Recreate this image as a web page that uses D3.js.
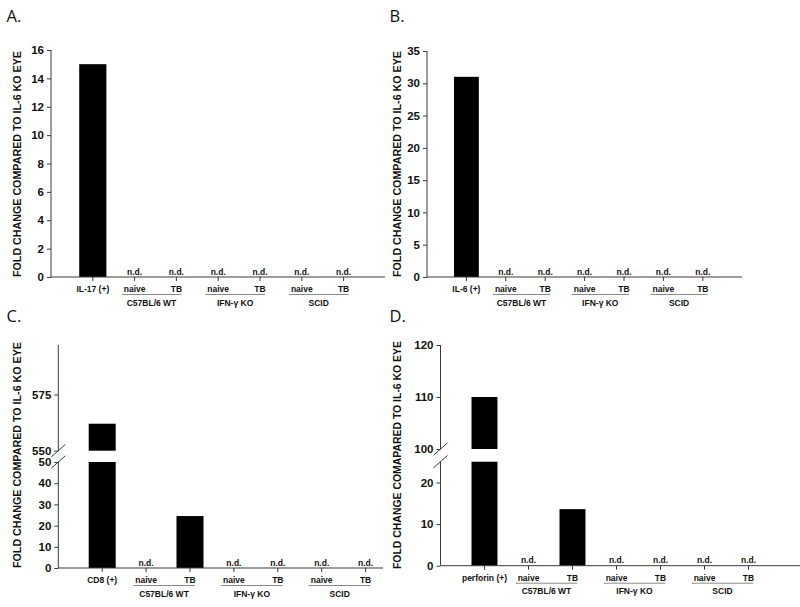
<!DOCTYPE html>
<html><head><meta charset="utf-8">
<script src="https://cdn.jsdelivr.net/npm/d3@7"></script>
<style>
body{margin:0;background:#fff;}
svg{display:block;font-family:"Liberation Sans",Arial,Helvetica,sans-serif;}
</style></head><body>
<svg id="c" width="800" height="607"></svg>
<script>
// ---- data ----
const groups = ["C57BL/6 WT", "IFN-\u03b3 KO", "SCID"];
const subCats = ["naive", "TB", "naive", "TB", "naive", "TB"];
const catsA = ["IL-17 (+)", ...subCats];
const valsA = [15, null, null, null, null, null, null];
const catsB = ["IL-6 (+)", ...subCats];
const valsB = [31, null, null, null, null, null, null];
const catsC = ["CD8 (+)", ...subCats];
const valsC = [562, null, 24.5, null, null, null, null];
const catsD = ["perforin (+)", ...subCats];
const valsD = [110, null, 13.6, null, null, null, null];
const ticksA = [0, 2, 4, 6, 8, 10, 12, 14, 16];
const ticksB = [0, 5, 10, 15, 20, 25, 30, 35];
const ticksCLow = [0, 10, 20, 30, 40, 50];
const ticksCHigh = [550, 575];
const ticksDLow = [0, 10, 20];
const ticksDHigh = [100, 110, 120];
const yTitleABC = "FOLD CHANGE COMPARED TO IL-6 KO EYE";
const yTitleD = "FOLD CHANGE COMAPARED TO IL-6 KO EYE";
const ndLabel = "n.d.";

const svg = d3.select("#c");
const AX = "#3a3a3a";
const FF = "'Liberation Sans',Arial,Helvetica,sans-serif";

function drawPanel(o) {
  const g = svg.append("g");
  const n = o.cats.length;
  const x = d3.scaleBand().domain(d3.range(n))
    .range([o.left + o.step / 2, o.left + (n + 0.5) * o.step])
    .paddingInner(o.pad).paddingOuter(o.pad / 2);
  const cx = i => x(i) + x.bandwidth() / 2;
  const base = o.segs[0].scale(o.segs[0].d0);

  // title letter
  g.append("text").attr("x", o.tx).attr("y", o.ty).text(o.title)
    .style("font-family", "'Open Sans','DejaVu Sans',sans-serif")
    .style("font-size", "16.5px").attr("fill", "#111");

  // y title
  g.append("text")
    .attr("transform", `translate(${o.ytx},${o.ytc}) rotate(-90)`)
    .attr("text-anchor", "middle")
    .style("font-family", FF).style("font-weight", "bold").style("font-size", "11px")
    .attr("textLength", o.ytl).attr("lengthAdjust", "spacingAndGlyphs")
    .attr("fill", "#111").text(o.ytitle);

  // bars
  o.vals.forEach((v, i) => {
    if (v == null) return;
    o.segs.forEach(s => {
      if (v <= s.d0) return;
      const top = s.scale(Math.min(v, s.d1));
      const bot = s.scale(s.d0);
      g.append("rect").attr("x", x(i)).attr("width", x.bandwidth())
        .attr("y", top).attr("height", bot - top).attr("fill", "#000");
    });
  });

  // y axis segments
  o.segs.forEach(s => {
    const ax = g.append("g").attr("transform", `translate(${o.left},0)`)
      .call(d3.axisLeft(s.scale).tickValues(s.ticks).tickSize(4).tickPadding(3));
    ax.select(".domain").remove();
    ax.selectAll(".tick line").attr("stroke", AX);
    ax.selectAll(".tick text").style("font-family", FF)
      .style("font-weight", "bold").style("font-size", "11.5px").attr("fill", "#111");
    g.append("line").attr("x1", o.left).attr("x2", o.left)
      .attr("y1", s.scale(s.d0)).attr("y2", s.scale(s.d1)).attr("stroke", AX);
  });

  // break marks
  if (o.segs.length > 1) {
    const ys = [o.segs[0].scale(o.segs[0].d1), o.segs[1].scale(o.segs[1].d0)];
    ys.forEach(yy => {
      g.append("line").attr("x1", o.left - 7).attr("y1", yy + 6.2)
        .attr("x2", o.left + 7).attr("y2", yy - 6.2).attr("stroke", AX);
    });
  }

  // x axis
  g.append("line").attr("x1", o.left).attr("x2", o.xEnd)
    .attr("y1", base).attr("y2", base).attr("stroke", AX);
  const xa = g.append("g").attr("transform", `translate(0,${base})`)
    .call(d3.axisBottom(x).tickSize(4).tickPadding(5).tickFormat(i => o.cats[i]));
  xa.select(".domain").remove();
  xa.selectAll(".tick line").attr("stroke", AX);
  xa.selectAll(".tick text").style("font-family", FF)
    .style("font-weight", "bold").style("font-size", "8.5px").attr("fill", "#111");

  // n.d. labels
  o.vals.forEach((v, i) => {
    if (v != null) return;
    g.append("text").attr("x", cx(i)).attr("y", base - 2.5)
      .attr("text-anchor", "middle")
      .style("font-family", FF).style("font-weight", "bold").style("font-size", "8.5px")
      .attr("fill", "#111").text(ndLabel);
  });

  // group underlines and labels
  groups.forEach((gr, k) => {
    const x1 = cx(1 + 2 * k) - 13, x2 = cx(2 + 2 * k) + 5;
    g.append("line").attr("x1", x1).attr("x2", x2)
      .attr("y1", base + 17.5).attr("y2", base + 17.5).attr("stroke", "#8a8a8a");
    g.append("text").attr("x", (x1 + x2) / 2).attr("y", base + 28.5)
      .attr("text-anchor", "middle")
      .style("font-family", FF).style("font-weight", "bold").style("font-size", "8.5px")
      .attr("fill", "#111").text(gr);
  });
}

drawPanel({
  title: "A.", tx: 6.5, ty: 21.7, ytitle: yTitleABC, ytx: 20.7, ytc: 164, ytl: 226,
  left: 51, step: 41.8, xEnd: 385, pad: 0.35, cats: catsA, vals: valsA,
  segs: [{ scale: d3.scaleLinear().domain([0, 16]).range([277, 50]), d0: 0, d1: 16, ticks: ticksA }]
});
drawPanel({
  title: "B.", tx: 389.5, ty: 21.7, ytitle: yTitleABC, ytx: 401, ytc: 164, ytl: 226,
  left: 427, step: 39.4, xEnd: 742, pad: 0.37, cats: catsB, vals: valsB,
  segs: [{ scale: d3.scaleLinear().domain([0, 35]).range([277, 51]), d0: 0, d1: 35, ticks: ticksB }]
});
drawPanel({
  title: "C.", tx: 6.5, ty: 321.7, ytitle: yTitleABC, ytx: 20.7, ytc: 455, ytl: 226,
  left: 58.3, step: 43.9, xEnd: 383, pad: 0.385, cats: catsC, vals: valsC,
  segs: [
    { scale: d3.scaleLinear().domain([0, 50]).range([568, 462]), d0: 0, d1: 50, ticks: ticksCLow },
    { scale: d3.scaleLinear().domain([550, 597]).range([450.7, 345]), d0: 550, d1: 597, ticks: ticksCHigh }
  ]
});
drawPanel({
  title: "D.", tx: 389.5, ty: 321.7, ytitle: yTitleD, ytx: 401, ytc: 455, ytl: 228,
  left: 440.5, step: 44, xEnd: 800, pad: 0.41, cats: catsD, vals: valsD,
  segs: [
    { scale: d3.scaleLinear().domain([0, 25]).range([565.7, 461.7]), d0: 0, d1: 25, ticks: ticksDLow },
    { scale: d3.scaleLinear().domain([100, 120]).range([449, 345]), d0: 100, d1: 120, ticks: ticksDHigh }
  ]
});
</script>
</body></html>
